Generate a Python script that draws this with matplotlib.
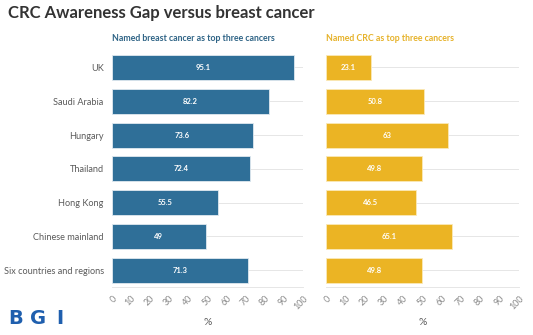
import matplotlib
matplotlib.use("Agg")
import matplotlib.pyplot as plt

categories = ["UK", "Saudi Arabia", "Hungary", "Thailand", "Hong Kong",
              "Chinese mainland", "Six countries and regions"]
breast_values = [95.1, 82.2, 73.6, 72.4, 55.5, 49, 71.3]
crc_values = [23.1, 50.8, 63, 49.8, 46.5, 65.1, 49.8]
breast_labels = ["95.1", "82.2", "73.6", "72.4", "55.5", "49", "71.3"]
crc_labels = ["23.1", "50.8", "63", "49.8", "46.5", "65.1", "49.8"]
x_ticks = [0, 10, 20, 30, 40, 50, 60, 70, 80, 90, 100]

BLUE = "#2f6f98"
YELLOW = "#ebb424"
GRAY = "#5a5a5a"

plt.rcParams['font.family'] = ['Lato', 'DejaVu Sans']

W, H = 533, 335
fig = plt.figure(figsize=(W / 100, H / 100), dpi=100)
fig.patch.set_facecolor("white")

def frac(x0, x1, ytop, ybot):
    return [x0 / W, 1 - ybot / H, (x1 - x0) / W, (ybot - ytop) / H]

ax1 = fig.add_axes(frac(112, 303, 50.6, 287))
ax2 = fig.add_axes(frac(326, 519, 50.6, 287))

ypos = list(range(len(categories)))

for ax, vals, labels, color, title, tcolor in [
    (ax1, breast_values, breast_labels, BLUE, "Named breast cancer as top three cancers", "#2f6486"),
    (ax2, crc_values, crc_labels, YELLOW, "Named CRC as top three cancers", "#e6b22a"),
]:
    for y in ypos:
        ax.axhline(y, color="#e6e6e6", lw=0.7, zorder=0)
    ax.barh(ypos, vals, height=0.74, color=color,
            edgecolor="#dfe9f0" if color == BLUE else "#fbe9b8",
            linewidth=0.6, zorder=2)
    for y, v, lab in zip(ypos, vals, labels):
        ax.text(v / 2, y, lab, ha="center", va="center", color="white",
                fontsize=5.5, fontweight="bold", zorder=3)
    ax.set_xlim(0, 100)
    ax.set_ylim(len(categories) - 0.5, -0.5)
    ax.set_xticks(x_ticks)
    ax.set_xticklabels([str(t) for t in x_ticks], rotation=45, ha="right",
                       rotation_mode="anchor", fontsize=6.4, color="#888888")
    ax.tick_params(axis="x", length=0, pad=5)
    ax.tick_params(axis="y", length=0)
    for s in ["top", "right", "left"]:
        ax.spines[s].set_visible(False)
    ax.spines["bottom"].set_color("#e6e6e6")
    ax.spines["bottom"].set_linewidth(0.7)
    ax.set_xlabel("%", fontsize=7.5, color=GRAY, labelpad=5)
    ax.set_title(title, loc="left", fontsize=6.3, fontweight="bold", color=tcolor, pad=7)

ax1.set_yticks(ypos)
ax1.set_yticklabels(categories, fontsize=6.6, color=GRAY)
ax1.tick_params(axis="y", pad=6)
ax2.set_yticks([])

fig.text(8 / W, 1 - 13 / H, "CRC Awareness Gap versus breast cancer", ha="left", va="center",
         fontsize=12, fontweight="bold", color="#333333")

for letter, xpx in [("B", 8), ("G", 30), ("I", 56)]:
    fig.text(xpx / W, 1 - 319 / H, letter, ha="left", va="center", fontsize=14,
             fontweight="heavy", family="DejaVu Sans", color="#1f5fae")

fig.savefig("out.png", dpi=100, facecolor="white")
